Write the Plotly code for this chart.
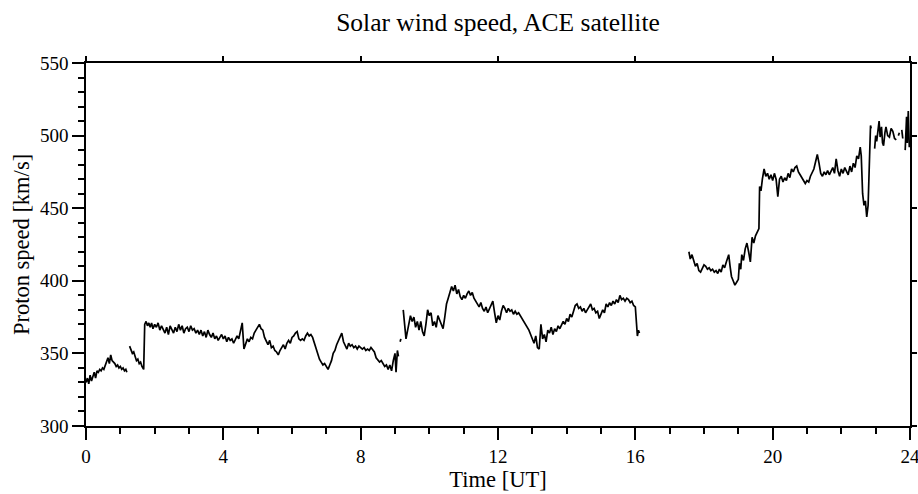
import plotly.graph_objects as go

N = None
hours = [
    0.00, 0.04, 0.08, 0.12, 0.16, 0.20, 0.24, 0.28, 0.32, 0.36, 0.40, 0.44, 0.48, 0.52, 0.56, 0.60,
    0.64, 0.68, 0.72, 0.76, 0.80, 0.84, 0.88, 0.92, 0.96, 1.00, 1.04, 1.08, 1.12, 1.16, 1.19, 1.23,
    1.27, 1.31, 1.35, 1.39, 1.43, 1.47, 1.51, 1.55, 1.59, 1.63, 1.68, 1.71, 1.75, 1.79, 1.83, 1.87,
    1.91, 1.95, 2.00, 2.05, 2.10, 2.15, 2.20, 2.25, 2.30, 2.35, 2.40, 2.45, 2.50, 2.55, 2.60, 2.65,
    2.70, 2.75, 2.80, 2.85, 2.90, 2.95, 3.00, 3.05, 3.10, 3.15, 3.20, 3.25, 3.30, 3.35, 3.40, 3.45,
    3.50, 3.55, 3.60, 3.65, 3.70, 3.75, 3.80, 3.85, 3.90, 3.95, 4.00, 4.05, 4.10, 4.15, 4.20, 4.25,
    4.30, 4.35, 4.40, 4.45, 4.50, 4.55, 4.60, 4.65, 4.70, 4.75, 4.80, 4.85, 4.90, 4.95, 5.00, 5.05,
    5.10, 5.15, 5.20, 5.25, 5.30, 5.35, 5.40, 5.45, 5.50, 5.55, 5.60, 5.65, 5.70, 5.75, 5.80, 5.85,
    5.90, 5.95, 6.00, 6.05, 6.10, 6.15, 6.20, 6.25, 6.30, 6.35, 6.40, 6.45, 6.50, 6.55, 6.60, 6.65,
    6.70, 6.75, 6.80, 6.85, 6.90, 6.95, 7.00, 7.05, 7.10, 7.15, 7.20, 7.25, 7.30, 7.35, 7.40, 7.45,
    7.50, 7.55, 7.60, 7.65, 7.70, 7.75, 7.80, 7.85, 7.90, 7.95, 8.00, 8.05, 8.10, 8.15, 8.20, 8.25,
    8.30, 8.35, 8.40, 8.45, 8.50, 8.55, 8.60, 8.65, 8.70, 8.75, 8.80, 8.85, 8.90, 8.95, 9.00, 9.03,
    9.07, 9.10, 9.12, 9.15, 9.17, 9.20,
    9.24, 9.28, 9.32, 9.36, 9.40, 9.45, 9.50, 9.55, 9.60, 9.65, 9.70, 9.75, 9.80, 9.85, 9.90, 9.95,
    10.00, 10.05, 10.10, 10.15, 10.20, 10.25, 10.30, 10.35, 10.40, 10.45, 10.50, 10.55, 10.60, 10.65,
    10.70, 10.75, 10.80, 10.85, 10.90, 10.95, 11.00, 11.05, 11.10, 11.15, 11.20, 11.25, 11.30, 11.35,
    11.40, 11.45, 11.50, 11.55, 11.60, 11.65, 11.70, 11.75, 11.80, 11.85, 11.90, 11.95, 12.00, 12.05,
    12.10, 12.15, 12.20, 12.25, 12.30, 12.35, 12.40, 12.45, 12.50, 12.55, 12.60, 12.65, 12.70, 12.75,
    12.80, 12.85, 12.90, 12.95, 13.00, 13.05, 13.10, 13.15, 13.20, 13.25, 13.30, 13.35, 13.40, 13.45,
    13.50, 13.55, 13.60, 13.65, 13.70, 13.75, 13.80, 13.85, 13.90, 13.95, 14.00, 14.05, 14.10, 14.15,
    14.20, 14.25, 14.30, 14.35, 14.40, 14.45, 14.50, 14.55, 14.60, 14.65, 14.70, 14.75, 14.80, 14.85,
    14.90, 14.95, 15.00, 15.05, 15.10, 15.15, 15.20, 15.25, 15.30, 15.35, 15.40, 15.45, 15.50, 15.55,
    15.60, 15.65, 15.70, 15.75, 15.80, 15.85, 15.90, 15.95, 16.00, 16.03, 16.06, 16.09, 16.12, 16.50,
    17.56, 17.60, 17.65, 17.70, 17.75, 17.80, 17.85, 17.90, 17.95, 18.00, 18.05, 18.10, 18.15, 18.20,
    18.25, 18.30, 18.35, 18.40, 18.45, 18.50, 18.55, 18.60, 18.65, 18.70, 18.72, 18.76, 18.80, 18.85,
    18.90, 18.95, 19.00, 19.03, 19.07, 19.10, 19.15, 19.20, 19.25, 19.30, 19.35, 19.40, 19.45, 19.50,
    19.55, 19.60, 19.62, 19.66, 19.70, 19.75, 19.80, 19.85, 19.90, 19.95, 20.00, 20.05, 20.10, 20.15,
    20.20, 20.25, 20.30, 20.35, 20.40, 20.45, 20.50, 20.55, 20.60, 20.65, 20.70, 20.75, 20.80, 20.85,
    20.90, 20.95, 21.00, 21.05, 21.10, 21.15, 21.20, 21.25, 21.30, 21.35, 21.40, 21.45, 21.50, 21.55,
    21.60, 21.65, 21.70, 21.75, 21.80, 21.85, 21.90, 21.95, 22.00, 22.05, 22.10, 22.15, 22.20, 22.25,
    22.30, 22.35, 22.40, 22.45, 22.50, 22.55, 22.58, 22.62, 22.66, 22.70, 22.74, 22.78, 22.82, 22.85,
    22.87, 22.92,
    22.97, 23.00, 23.03, 23.06, 23.10, 23.13, 23.17, 23.20, 23.23, 23.27, 23.30, 23.35, 23.40, 23.45,
    23.50, 23.55, 23.60, 23.63, 23.66, 23.69, 23.72, 23.76, 23.79, 23.82, 23.86, 23.88, 23.90, 23.92,
    23.95, 23.98,
]
speed = [
    330, 333, 329, 335, 331, 334, 337, 333, 338, 337, 339, 338, 340, 339, 342, 344,
    347, 343, 349, 345, 344, 343, 341, 342, 340, 341, 339, 340, 338, 339, 337, N,
    355, 352, 350, 351, 347, 345, 346, 343, 344, 341, 339, 370, 372, 369, 371, 368,
    371, 367, 370, 368, 371, 366, 369, 367, 364, 368, 363, 369, 366, 364, 368, 365,
    370, 366, 369, 364, 367, 368, 365, 369, 366, 367, 364, 366, 363, 366, 362, 365,
    361, 366, 363, 361, 364, 360, 362, 359, 361, 363, 360, 362, 358, 361, 359, 360,
    357, 359, 362, 360, 365, 371, 353, 357, 360, 358, 361, 360, 364, 366, 368, 370,
    367, 366, 361, 358, 356, 359, 354, 355, 352, 351, 349, 352, 354, 356, 353, 357,
    359, 357, 361, 362, 364, 365, 360, 359, 360, 359, 362, 364, 362, 363, 361, 357,
    354, 350, 346, 344, 342, 343, 341, 339, 342, 345, 350, 352, 356, 359, 362, 364,
    358, 355, 353, 357, 355, 356, 354, 355, 353, 355, 354, 353, 354, 352, 353, 352,
    354, 352, 351, 347, 345, 344, 345, 343, 341, 342, 339, 342, 338, 345, 350, 337,
    352, 348, N, 358, 360, N,
    380, 372, 360, 365, 370, 376, 372, 375, 368, 372, 366, 372, 365, 362, 370, 380,
    376, 378, 369, 372, 368, 376, 373, 370, 367, 375, 384, 388, 392, 396,
    393, 397, 391, 394, 389, 387, 390, 388, 391, 393, 390, 392, 388, 386,
    384, 382, 385, 381, 379, 382, 378, 381, 384, 386, 378, 371, 376, 373,
    379, 383, 381, 378, 381, 379, 380, 377, 379, 377, 378, 376, 375, 373,
    371, 369, 366, 363, 360, 357, 362, 354, 353, 370, 360, 363, 358, 366,
    364, 368, 363, 367, 365, 369, 367, 370, 372, 370, 374, 372, 377, 375,
    380, 383, 384, 381, 382, 379, 381, 378, 380, 382, 384, 380, 381, 378,
    379, 374, 377, 380, 378, 384, 382, 385, 383, 386, 384, 387, 385, 390,
    387, 388, 386, 388, 387, 385, 386, 383, 382, 370, 362, 366, 364, N,
    420, 415, 418, 413, 410, 412, 407, 406, 409, 411, 410, 408, 409, 407,
    408, 406, 407, 405, 408, 406, 411, 409, 413, 416, 418, 410, 403, 400,
    397, 399, 401, 412, 408, 418, 414, 422, 426, 420, 413, 430, 426, 431,
    434, 436, 465, 462, 470, 477, 472, 474, 470, 473, 469, 474, 470, 458,
    470, 472, 468, 471, 469, 474, 471, 477, 475, 478, 479, 475, 473, 471,
    469, 467, 469, 468, 472, 474, 477, 482, 487, 481, 474, 472, 475, 473,
    476, 473, 476, 478, 474, 484, 476, 472, 477, 474, 478, 476, 473, 479,
    475, 481, 478, 486, 484, 492, 486, 460, 452, 455, 444, 452, 478, 507,
    505, N,
    491, 500, 496, 504, 510, 499, 506, 495, 493, 502, 506, 500, 499, 505,
    503, 498, 497, N, 500, 502, N, 504, 498, N, 490, 506, 513, 495,
    517, 492,
]

x_ticks = [0, 4, 8, 12, 16, 20, 24]
y_ticks = [300, 350, 400, 450, 500, 550]

FONT = "Liberation Serif"

fig = go.Figure()
fig.add_trace(go.Scatter(
    x=hours, y=speed, mode="lines",
    line=dict(color="black", width=1.7),
    connectgaps=False, showlegend=False, hoverinfo="skip",
))
# helper trace so the mirrored (top/right) tick axes are drawn
fig.add_trace(go.Scatter(x=[None], y=[None], xaxis="x2", yaxis="y2",
                         mode="lines", showlegend=False, hoverinfo="skip"))

tick_style = dict(showgrid=False, zeroline=False, tickcolor="black", tickwidth=1.5,
                  automargin=False)

fig.update_layout(
    width=918, height=494,
    margin=dict(l=86, r=8, t=63, b=68),
    paper_bgcolor="white", plot_bgcolor="white",
    font=dict(family=FONT, color="black", size=19),
    title=dict(text="Solar wind speed, ACE satellite", x=0.5, xref="paper",
               y=0.955, yref="container", yanchor="middle",
               font=dict(family=FONT, size=25.5, color="black")),
    xaxis=dict(range=[0, 24], tickvals=x_ticks, ticktext=[str(v) for v in x_ticks],
               ticks="outside", ticklen=12, showline=True, mirror=True,
               linecolor="black", linewidth=1.5, ticklabeloverflow="allow",
               minor=dict(dtick=1, ticks="outside", ticklen=6, tickcolor="black", tickwidth=1.5),
               title=dict(text="Time [UT]", font=dict(size=22.5), standoff=4),
               tickfont=dict(size=19), **tick_style),
    yaxis=dict(range=[300, 550], tickvals=y_ticks, ticktext=[str(v) for v in y_ticks],
               ticks="outside", ticklen=12, showline=True, mirror=True,
               linecolor="black", linewidth=1.5, ticklabeloverflow="allow",
               minor=dict(dtick=10, ticks="outside", ticklen=6, tickcolor="black", tickwidth=1.5),
               title=dict(text="Proton speed [km/s]", font=dict(size=22.5), standoff=4),
               tickfont=dict(size=19), **tick_style),
    xaxis2=dict(range=[0, 24], overlaying="x", side="top", anchor="y2",
                tickvals=x_ticks, showticklabels=False, ticks="outside", ticklen=6,
                showline=False, **tick_style),
    yaxis2=dict(range=[300, 550], overlaying="y", side="right", anchor="x2",
                tickvals=y_ticks, showticklabels=False, ticks="outside", ticklen=6,
                showline=False, **tick_style),
)

fig.write_html("out.html")
